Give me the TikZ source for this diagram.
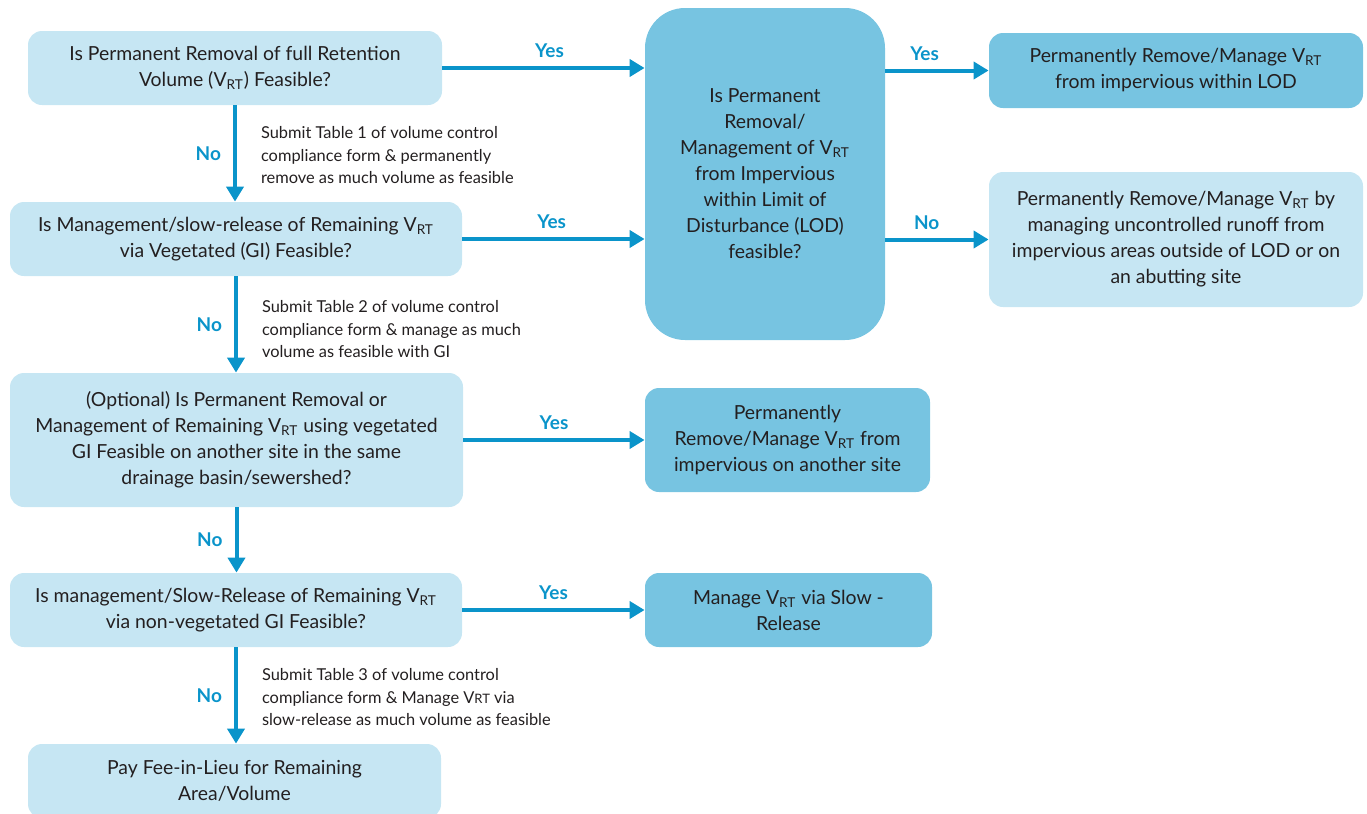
\documentclass[tikz,border=0pt]{standalone}
\usepackage{fontspec}
\setmainfont{Lato}
\usepackage{xcolor}
\usetikzlibrary{positioning, arrows.meta}
\definecolor{boxlight}{HTML}{C6E6F3}
\definecolor{boxdark}{HTML}{77C4E1}
\definecolor{flowblue}{HTML}{0A94CA}
\definecolor{inkgray}{HTML}{231F20}
\newcommand{\vrt}{V\textsubscript{RT}}

\begin{document}
\begin{tikzpicture}[x=0.5pt, y=-0.5pt,
	light box/.style={rectangle, rounded corners=7pt, fill=boxlight, text=inkgray, align=center, inner sep=0pt, font=\fontsize{9.7}{13}\selectfont},
	dark box/.style={light box, fill=boxdark},
	flow/.style={draw=flowblue, line width=2pt, -{Triangle[length=7.5pt, width=8.5pt]}},
	answer/.style={text=flowblue, inner sep=0pt, font=\fontsize{9.5}{11}\selectfont\bfseries},
	note/.style={text=inkgray, align=left, inner sep=0pt, font=\fontsize{8.2}{11.25}\selectfont}]
		
		\useasboundingbox (0,0) rectangle (1367,814);
		
		% Nodes
		\node[light box, minimum width=207pt, minimum height=37pt] (full) at (235,68) {Is Permanent Removal of full Retention\\Volume (\vrt) Feasible?};
		\node[light box, minimum width=226pt, minimum height=37pt] (veg) at (236,239) {Is Management/slow-release of Remaining \vrt\\via Vegetated (GI) Feasible?};
		\node[light box, minimum width=226.5pt, minimum height=67pt] (offsite) at (236.5,440) {(Optional) Is Permanent Removal or\\Management of Remaining \vrt{} using vegetated\\GI Feasible on another site in the same\\drainage basin/sewershed?};
		\node[light box, minimum width=226pt, minimum height=37pt] (nonveg) at (236,610) {Is management/Slow-Release of Remaining \vrt\\via non-vegetated GI Feasible?};
		\node[light box, minimum width=206.5pt, minimum height=37pt] (fee) at (234.5,781) {Pay Fee-in-Lieu for Remaining\\Area/Volume};
		
		\node[dark box, rounded corners=20pt, minimum width=120pt, minimum height=166pt] (lod) at (765,174) {Is Permanent\\Removal/\\Management of \vrt\\from Impervious\\within Limit of\\Disturbance (LOD)\\feasible?};
		\node[dark box, minimum width=187pt, minimum height=37.5pt] (within) at (1176,70.5) {Permanently Remove/Manage \vrt\\from impervious within LOD};
		\node[light box, minimum width=187pt, minimum height=67.5pt] (outside) at (1176,239.5) {Permanently Remove/Manage \vrt{} by\\managing uncontrolled runoff from\\impervious areas outside of LOD or on\\an abutting site};
		\node[dark box, minimum width=142.5pt, minimum height=52pt] (another) at (787.5,440) {Permanently\\Remove/Manage \vrt{} from\\impervious on another site};
		\node[dark box, minimum width=143.5pt, minimum height=37pt] (slow) at (788.5,610) {Manage \vrt{} via Slow -\\Release};
		
		% Edges (yes / no)
		\draw[flow] (full.east) -- (full.east -| lod.west) node[answer, pos=0.53, above=4pt] {Yes};
		\draw[flow] (veg.east) -- (veg.east -| lod.west) node[answer, pos=0.49, above=4pt] {Yes};
		\draw[flow] (within.west -| lod.east) -- (within.west) node[answer, pos=0.38, above=4pt] {Yes};
		\draw[flow] (outside.west -| lod.east) -- (outside.west) node[answer, pos=0.4, above=4pt] {No};
		\draw[flow] (offsite.east) -- (another.west) node[answer, midway, above=4pt] {Yes};
		\draw[flow] (nonveg.east) -- (slow.west) node[answer, midway, above=4pt] {Yes};
		
		\draw[flow] (full.south) -- (full.south |- veg.north)
		node[answer, midway, left=6pt] {No}
		node[note, pos=0.52, right=12pt] {Submit Table 1 of volume control\\compliance form \& permanently\\remove as much volume as feasible};
		\draw[flow] (veg.south) -- (veg.south |- offsite.north)
		node[answer, midway, left=6pt] {No}
		node[note, pos=0.55, right=12pt] {Submit Table 2 of volume control\\compliance form \& manage as much\\volume as feasible with GI};
		\draw[flow] (offsite.south) -- (offsite.south |- nonveg.north)
		node[answer, midway, left=6pt] {No};
		\draw[flow] (nonveg.south) -- (nonveg.south |- fee.north)
		node[answer, midway, left=6pt] {No}
		node[note, pos=0.52, right=12pt] {Submit Table 3 of volume control\\compliance form \& Manage V{\fontsize{6.5}{6.5}\selectfont RT} via\\slow-release as much volume as feasible};
	\end{tikzpicture}
\end{document}
